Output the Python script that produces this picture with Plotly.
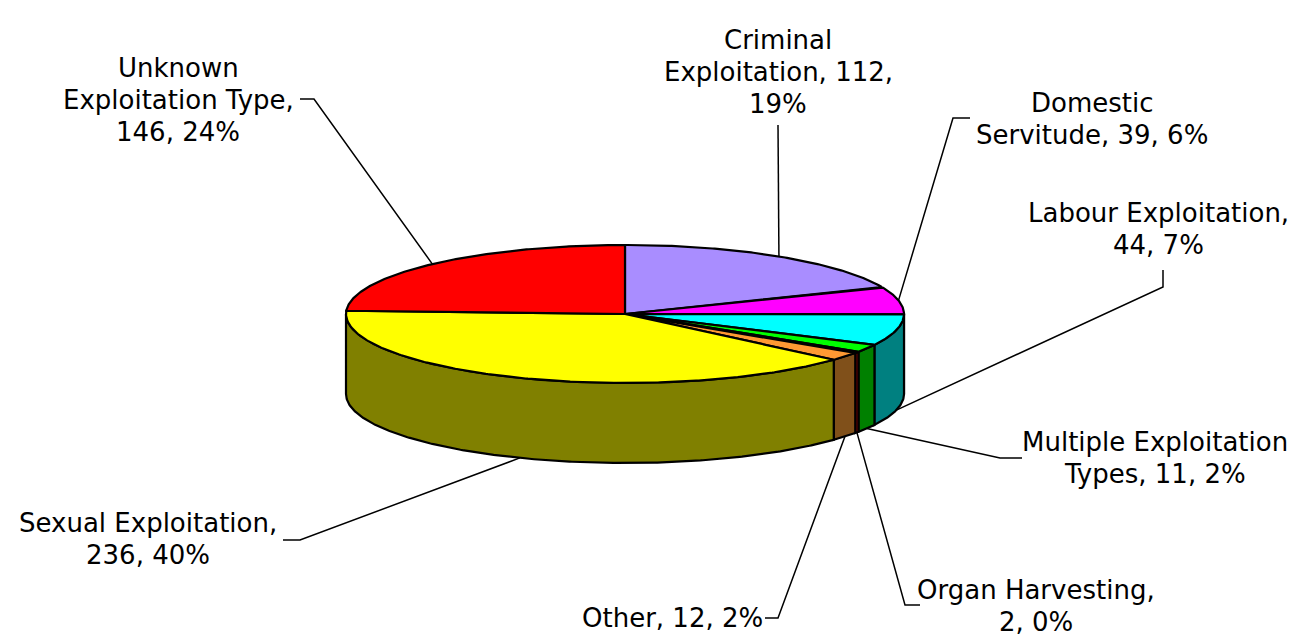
import numpy as np
import plotly.graph_objects as go

# ---- data ----
categories = ["Criminal Exploitation", "Domestic Servitude", "Labour Exploitation",
              "Multiple Exploitation Types", "Organ Harvesting", "Other",
              "Sexual Exploitation", "Unknown Exploitation Type"]
values = [112, 39, 44, 11, 2, 12, 236, 146]
percent_labels = ["19%", "6%", "7%", "2%", "0%", "2%", "40%", "24%"]
label_lines = [
    ["Criminal", "Exploitation, 112,", "19%"],
    ["Domestic", "Servitude, 39, 6%"],
    ["Labour Exploitation,", "44, 7%"],
    ["Multiple Exploitation", "Types, 11, 2%"],
    ["Organ Harvesting,", "2, 0%"],
    ["Other, 12, 2%"],
    ["Sexual Exploitation,", "236, 40%"],
    ["Unknown", "Exploitation Type,", "146, 24%"],
]

# ---- styles / layout ----
top_colors = ["#A98DFF", "#FF00FF", "#00FFFF", "#00FF00", "#B00000", "#FF9933", "#FFFF00", "#FF0000"]
side_colors = ["#54467F", "#800080", "#008080", "#008000", "#800000", "#80501A", "#808000", "#800000"]
CX, CY, RX, RY, DEPTH = 625, 314, 279, 69, 80
label_pos = [(778, 72), (1092, 119), (1158, 229), (1155, 458), (1036, 606), (672, 618), (148, 539), (178, 100)]
LINE_H = 32
# leader path from label side: list of points, final point on pie computed from data
leader_pts = [
    [(778, 125)],
    [(970, 118), (953, 118)],
    [(1163, 270), (1163, 287)],
    [(1022, 458), (1000, 458)],
    [(920, 605), (905, 605)],
    [(765, 618), (778, 618)],
    [(283, 540), (300, 540)],
    [(300, 99), (314, 99)],
]
FONT = dict(family="DejaVu Sans, Verdana, sans-serif", size=26, color="black")


def ell(theta, dy=0.0):
    t = np.radians(theta)
    return CX + RX * np.sin(t), CY - RY * np.cos(t) + dy


total = float(sum(values))
angles = np.cumsum([0] + [v / total * 360 for v in values])

fig = go.Figure()

# side faces (front half only: 90..270 deg)
for i in range(len(values)):
    a1, a2 = angles[i], angles[i + 1]
    s, e = max(a1, 90), min(a2, 270)
    if e <= s:
        continue
    th = np.linspace(s, e, max(int((e - s) * 2), 3))
    xt, yt = ell(th)
    xb, yb = ell(th[::-1], DEPTH)
    xs = np.concatenate([xt, xb, xt[:1]])
    ys = np.concatenate([yt, yb, yt[:1]])
    fig.add_trace(go.Scatter(x=xs, y=ys, mode="lines", fill="toself",
                             fillcolor=side_colors[i], line=dict(color="black", width=2.2),
                             hoverinfo="skip", showlegend=False))

# top faces
for i in range(len(values)):
    a1, a2 = angles[i], angles[i + 1]
    th = np.linspace(a1, a2, max(int((a2 - a1) * 2), 3))
    xt, yt = ell(th)
    xs = np.concatenate([[CX], xt, [CX]])
    ys = np.concatenate([[CY], yt, [CY]])
    fig.add_trace(go.Scatter(x=xs, y=ys, mode="lines", fill="toself",
                             fillcolor=top_colors[i], line=dict(color="black", width=2.2),
                             hoverinfo="skip", showlegend=False))

# leader lines and labels
for i in range(len(values)):
    mid = (angles[i] + angles[i + 1]) / 2
    front = 90 < mid < 270
    px, py = ell(mid, DEPTH if front else 0)
    pts = leader_pts[i] + [(px, py)]
    fig.add_trace(go.Scatter(x=[p[0] for p in pts], y=[p[1] for p in pts], mode="lines",
                             line=dict(color="black", width=1.5),
                             hoverinfo="skip", showlegend=False))
    n = len(label_lines[i])
    for k, line in enumerate(label_lines[i]):
        fig.add_annotation(x=label_pos[i][0], y=label_pos[i][1] + (k - (n - 1) / 2) * LINE_H,
                           text=line, showarrow=False, xanchor="center", yanchor="middle",
                           font=FONT)

fig.update_layout(
    width=1296, height=637,
    margin=dict(l=0, r=0, t=0, b=0),
    paper_bgcolor="white", plot_bgcolor="white",
    xaxis=dict(range=[0, 1296], visible=False, fixedrange=True),
    yaxis=dict(range=[637, 0], visible=False, fixedrange=True),
)

fig.write_html("out.html")
